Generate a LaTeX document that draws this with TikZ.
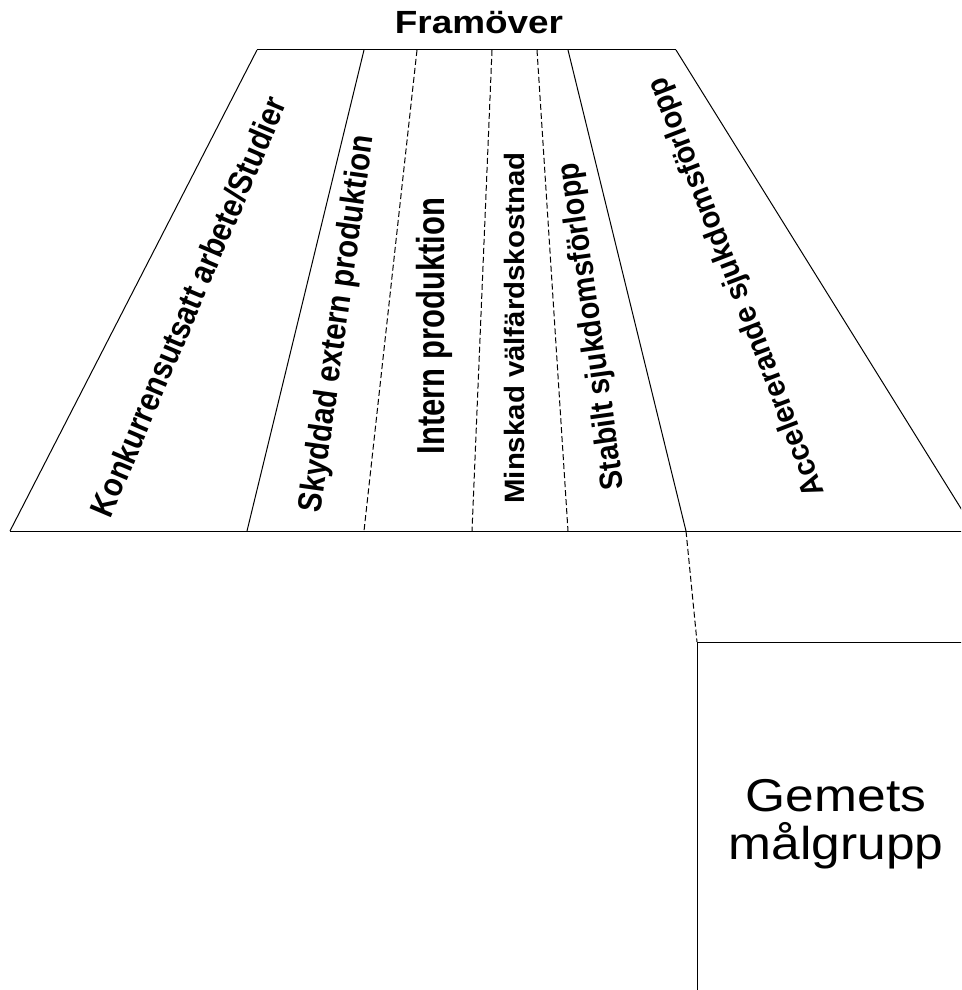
\documentclass[tikz,border=0pt]{standalone}
\usepackage{fontspec}
\setmainfont{Liberation Sans}
\begin{document}
\begin{tikzpicture}[x=1pt,y=-1pt,
  edge/.style={line width=1pt},
  dashedge/.style={line width=1pt, dash pattern=on 6pt off 3pt},
  band/.style={inner sep=0pt, anchor=base},
  bold size/.style={font=\bfseries\fontsize{#1}{#1}\selectfont},
  group/.style={inner sep=0pt, align=center, font=\fontsize{46}{48}\selectfont, xscale=1.12}]
\useasboundingbox (0,0) rectangle (961,990);
\clip (0,0) rectangle (961,990);

% top edge of the fan
\coordinate (t0) at (257,50);
\coordinate (t1) at (364,50);
\coordinate (t2) at (417,50);
\coordinate (t3) at (492,50);
\coordinate (t4) at (537,50);
\coordinate (t5) at (568,50);
\coordinate (t6) at (676,50);
% base line of the fan
\coordinate (b0) at (10,531);
\coordinate (b1) at (247,531);
\coordinate (b2) at (364,531);
\coordinate (b3) at (472,531);
\coordinate (b4) at (568,531);
\coordinate (b5) at (686,531);
\coordinate (b6) at (975,531);
% target group box corner
\coordinate (c0) at (697,642);
\coordinate (c1) at (975,642);
\coordinate (c2) at (697,1000);

% outline
\draw[edge] (t0) -- (t6);
\draw[edge] (t0) -- (b0);
\draw[edge] (t6) -- (b6);
\draw[edge] (b0) -- (b6);
% dividers
\draw[edge] (t1) -- (b1);
\draw[dashedge] (t2) -- (b2);
\draw[dashedge] (t3) -- (b3);
\draw[dashedge] (t4) -- (b4);
\draw[edge] (t5) -- (b5);
\draw[dashedge] (b5) -- (c0);
\draw[edge] (c0) -- (c1);
\draw[edge] (c0) -- (c2);

% headings and band labels
\node[band, bold size=32.1, xscale=1.15] (head) at (479,34) {Framöver};
\node[band, bold size=33.5, rotate=67, xscale=0.88] (l1) at (199,311) {Konkurrensutsatt arbete/Studier};
\node[band, bold size=33.5, rotate=82, xscale=0.876] (l2) at (347,325) {Skyddad extern produktion};
\node[band, bold size=39, rotate=90, xscale=0.794] (l3) at (444,326) {Intern produktion};
\node[band, bold size=28, rotate=90, xscale=1.05] (l4) at (524,328) {Minskad välfärdskostnad};
\node[band, bold size=32, rotate=98, xscale=0.9] (l5) at (601,325) {Stabilt sjukdomsförlopp};
\node[band, bold size=30.7, rotate=111, xscale=0.95] (l6) at (745,284) {Accelererande sjukdomsförlopp};

\node[group] (grp) at (836,824) {Gemets\\målgrupp};
\end{tikzpicture}
\end{document}
